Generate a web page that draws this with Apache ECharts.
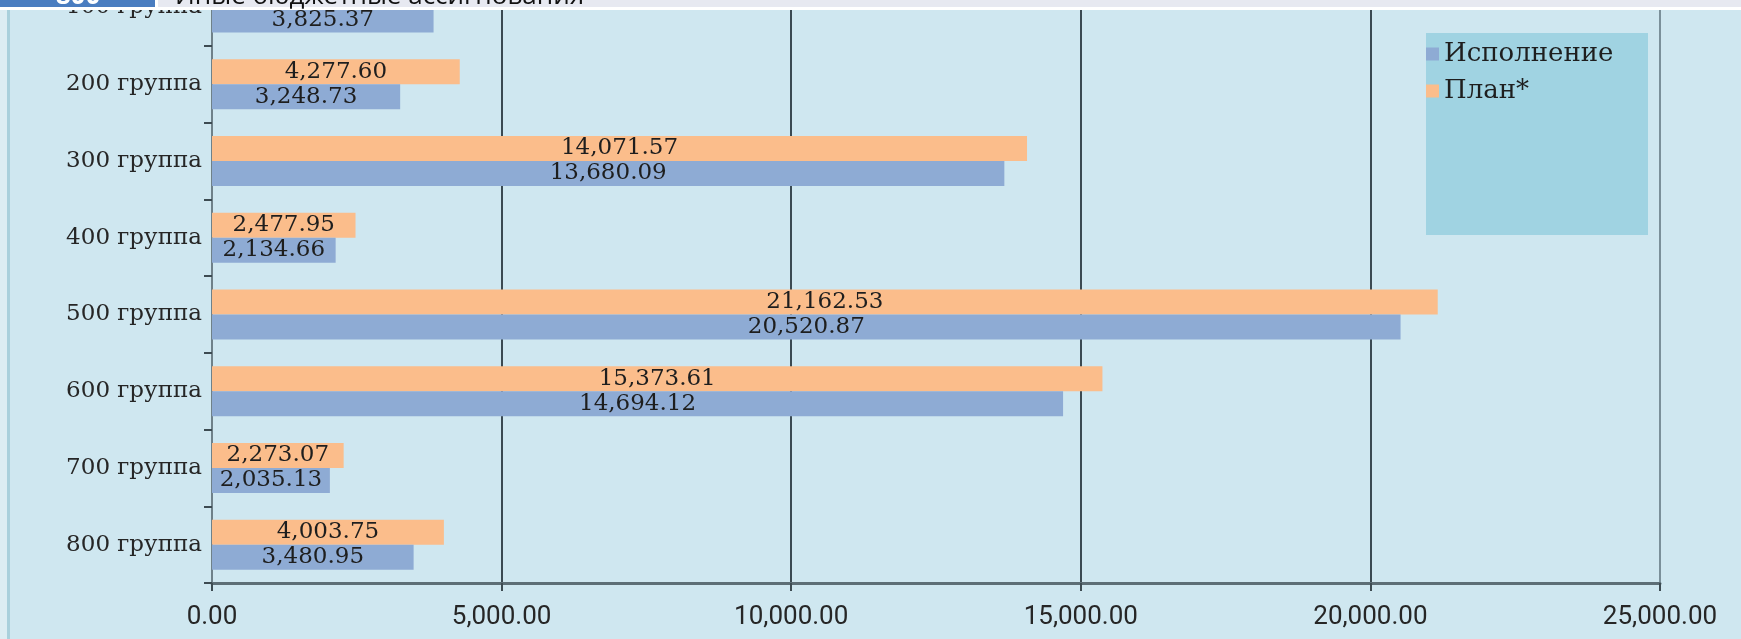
<!DOCTYPE html>
<html>
<head>
<meta charset="utf-8">
<script src="https://cdn.jsdelivr.net/npm/echarts@6/dist/echarts.min.js"></script>
<style>
html,body{margin:0;padding:0;background:#cfe7f0;overflow:hidden;width:1741px;height:639px;}
#wrap{position:relative;width:1741px;height:639px;overflow:hidden;}
#chart{position:absolute;left:0;top:-31px;width:1741px;height:670px;}
</style>
</head>
<body>
<div id="wrap"><div id="chart"></div></div>
<script>
// ---- data ----
const categories = ['100 группа','200 группа','300 группа','400 группа','500 группа','600 группа','700 группа','800 группа'];
const seriesNames = ['Исполнение','План*'];
const ispolnenie = [3825.37, 3248.73, 13680.09, 2134.66, 20520.87, 14694.12, 2035.13, 3480.95];
// plan value for 100 группа is cut off in the reference (hidden above the frame)
const plan = [null, 4277.60, 14071.57, 2477.95, 21162.53, 15373.61, 2273.07, 4003.75];
const xTicks = [0, 5000, 10000, 15000, 20000, 25000];
const headerNumber = '800';
const headerTitle = 'Иные бюджетные ассигнования';

const fmt = v => Number(v).toLocaleString('en-US', {minimumFractionDigits: 2, maximumFractionDigits: 2});

const OFF = 31; // the chart canvas starts 31px above the visible frame (reference is cropped)
const chart = echarts.init(document.getElementById('chart'), null, {renderer: 'canvas'});
const serif = '"DejaVu Serif", "Liberation Serif", serif';

const labelStyle = {
  show: true,
  position: 'inside',
  color: '#1e1e1e',
  fontFamily: serif,
  fontSize: 23,
  formatter: p => fmt(p.value)
};

chart.setOption({
  backgroundColor: '#cfe7f0',
  animation: false,
  grid: {left: 212, right: 81, top: 0, bottom: 56, containLabel: false},
  xAxis: {
    type: 'value',
    min: xTicks[0],
    max: xTicks[xTicks.length - 1],
    interval: xTicks[1] - xTicks[0],
    axisLine: {show: true, lineStyle: {color: '#5d6e76', width: 3}},
    axisTick: {show: true, length: 8, lineStyle: {color: '#3d4b52', width: 2}},
    axisLabel: {
      margin: 21,
      color: '#262626',
      fontFamily: 'Roboto, "Open Sans", sans-serif',
      fontSize: 26,
      formatter: v => fmt(v)
    },
    splitLine: {show: true, lineStyle: {color: ['#3b4a52','#3b4a52','#3b4a52','#3b4a52','#3b4a52','#7b909a'], width: 2}}
  },
  yAxis: {
    type: 'category',
    inverse: true,
    data: categories,
    axisLine: {show: true, lineStyle: {color: '#6f8189', width: 2}},
    axisTick: {show: true, length: 8, lineStyle: {color: '#3d4b52', width: 2}},
    axisLabel: {
      margin: 10,
      color: '#262626',
      fontFamily: serif,
      fontSize: 23,
      padding: [6, 0, 0, 0]
    }
  },
  legend: {
    orient: 'vertical',
    left: 1426,
    top: 41 + OFF,
    padding: 0,
    itemWidth: 13,
    itemHeight: 13,
    itemGap: 11,
    icon: 'rect',
    data: seriesNames,
    textStyle: {fontFamily: serif, fontSize: 26, lineHeight: 26, color: '#1e1e1e'}
  },
  graphic: [
    {type: 'rect', z: -10, silent: true, shape: {x: 1426, y: 33 + OFF, width: 222, height: 202}, style: {fill: '#a0d3e2'}},
    {type: 'rect', z: 100, silent: true, shape: {x: 0, y: 10 + OFF, width: 7, height: 629}, style: {fill: '#dcedf3'}},
    {type: 'rect', z: 100, silent: true, shape: {x: 7, y: 10 + OFF, width: 3, height: 629}, style: {fill: '#a9d0dc'}},
    {type: 'rect', z: 100, silent: true, shape: {x: 0, y: 0, width: 1741, height: 10 + OFF}, style: {fill: '#ffffff'}},
    {type: 'rect', z: 101, silent: true, shape: {x: 158, y: 0, width: 1583, height: 7 + OFF}, style: {fill: '#e7e9f1'}},
    {type: 'rect', z: 101, silent: true, shape: {x: 0, y: 0, width: 155, height: 7 + OFF}, style: {fill: '#4a7dc0'}},
    {type: 'text', z: 102, silent: true, x: 78, y: -3 + OFF, style: {text: headerNumber, fill: '#ffffff', font: 'bold 26px "Open Sans", sans-serif', align: 'center', verticalAlign: 'middle'}},
    {type: 'text', z: 102, silent: true, x: 175, y: -3 + OFF, style: {text: headerTitle, fill: '#111111', font: '26px "Open Sans", sans-serif', align: 'left', verticalAlign: 'middle'}}
  ],
  series: [
    {
      name: seriesNames[1], type: 'bar', data: plan,
      barWidth: 25, barGap: '0%',
      itemStyle: {color: '#fbbd8b'},
      label: labelStyle
    },
    {
      name: seriesNames[0], type: 'bar', data: ispolnenie,
      barWidth: 25, barGap: '0%',
      itemStyle: {color: '#8eabd4'},
      label: labelStyle
    }
  ]
});
</script>
</body>
</html>
